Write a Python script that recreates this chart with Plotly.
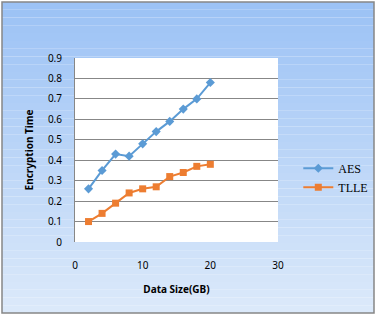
import plotly.graph_objects as go

data_size = [2, 4, 6, 8, 10, 12, 14, 16, 18, 20]
aes = [0.26, 0.35, 0.43, 0.42, 0.48, 0.54, 0.59, 0.65, 0.70, 0.78]
tlle = [0.10, 0.14, 0.19, 0.24, 0.26, 0.27, 0.32, 0.34, 0.37, 0.38]

W, H = 377, 317
L, R, T, B = 75, 99, 58, 75
pw, ph = W - L - R, H - T - B

def px(x):
    return (x - L) / pw

def py(y):
    return (H - B - y) / ph

fig = go.Figure()
fig.add_trace(go.Scatter(x=data_size, y=aes, name="AES", mode="lines+markers",
                         line=dict(color="#5B9BD5", width=2),
                         marker=dict(symbol="diamond", size=7, color="#5B9BD5")))
fig.add_trace(go.Scatter(x=data_size, y=tlle, name="TLLE", mode="lines+markers",
                         line=dict(color="#ED7D31", width=2),
                         marker=dict(symbol="square", size=7, color="#ED7D31")))

# gradient background
shapes = []
top_c = (155, 194, 245)
bot_c = (220, 233, 250)
y_top, y_bot = 2, 313
n = 40
for i in range(n):
    t0 = y_top + (y_bot - y_top) * i / n
    t1 = y_top + (y_bot - y_top) * (i + 1) / n
    f = (i + 0.5) / n
    c = tuple(round(top_c[k] + (bot_c[k] - top_c[k]) * f) for k in range(3))
    shapes.append(dict(type="rect", xref="paper", yref="paper", layer="below",
                       x0=px(2), x1=px(374), y0=py(t1), y1=py(t0),
                       fillcolor="rgb(%d,%d,%d)" % c, line=dict(width=0)))
shapes.append(dict(type="rect", xref="paper", yref="paper", layer="below",
                   x0=px(2), x1=px(374), y0=py(313), y1=py(2),
                   fillcolor="rgba(0,0,0,0)", line=dict(color="#868686", width=1.5)))
shapes.append(dict(type="rect", xref="paper", yref="paper", layer="below",
                   x0=0, x1=1, y0=0, y1=1,
                   fillcolor="white", line=dict(width=0)))

fig.update_layout(
    width=W, height=H,
    margin=dict(l=L, r=R, t=T, b=B, autoexpand=False),
    paper_bgcolor="white",
    plot_bgcolor="rgba(0,0,0,0)",
    shapes=shapes,
    font=dict(family="Noto Sans", size=10, color="black"),
    legend=dict(x=1.1, y=0.48, xanchor="left", yanchor="top",
                font=dict(family="Liberation Serif", size=12, color="black"),
                bgcolor="rgba(0,0,0,0)", itemwidth=30,
                traceorder="grouped", tracegroupgap=6),
    xaxis=dict(range=[0, 30], dtick=10, showgrid=False, showline=False, zeroline=False,
               automargin=False,
               ticks="outside", ticklen=14, tickcolor="rgba(0,0,0,0)",
               title=dict(text="<b>Data Size(GB)</b>", standoff=14,
                          font=dict(size=10))),
    yaxis=dict(range=[0, 0.9], dtick=0.1, showgrid=True, gridcolor="#878787",
               gridwidth=1, showline=True, linecolor="#878787", zeroline=False,
               automargin=False,
               ticks="outside", ticklen=10, tickcolor="rgba(0,0,0,0)",
               title=dict(text="<b>Encryption Time</b>", standoff=12,
                          font=dict(size=10))),
)

fig.write_html("out.html", config={"displayModeBar": False},
               post_script="document.body.style.margin='0';document.body.style.overflow='hidden';")
